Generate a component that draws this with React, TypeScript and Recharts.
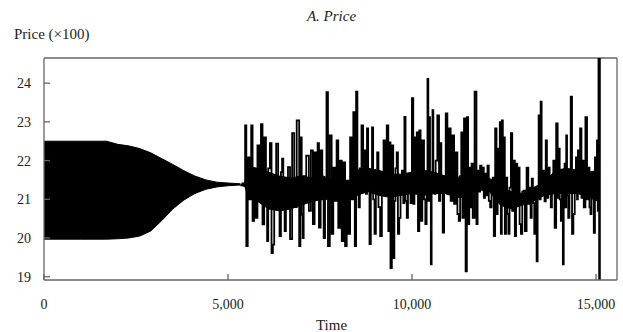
import { ComposedChart, Area, Line, XAxis, YAxis, ReferenceLine } from 'recharts'

// phase 1: dense oscillation, drawn as its envelope
const calmTimes = [0, 1000, 1700, 2000, 2300, 2600, 2900, 3200, 3500, 3800, 4100, 4400, 4700, 5000, 5340]
const calmUpper = [22.5, 22.5, 22.5, 22.42, 22.38, 22.31, 22.2, 22.05, 21.9, 21.74, 21.6, 21.5, 21.44, 21.42, 21.4]
const calmLower = [19.97, 19.97, 19.97, 19.98, 20.0, 20.05, 20.18, 20.45, 20.75, 20.98, 21.15, 21.26, 21.32, 21.35, 21.37]

// phase 2: the solid dark core of the noisy part
const coreTimes = [5450, 5550, 5800, 6100, 6400, 6700, 7000, 7300, 7600, 7900, 8200, 8500, 8800, 9100, 9400, 9700, 10000,
  10300, 10600, 10900, 11200, 11500, 11800, 12100, 12400, 12700, 13000, 13300, 13600, 13900, 14200, 14500, 14800, 15050]
const coreUpper = [21.4, 21.85, 21.8, 21.7, 21.6, 21.55, 21.6, 21.55, 21.6, 21.45, 21.25, 21.75, 21.8, 21.75, 21.65, 21.65, 21.7,
  21.75, 21.7, 21.6, 21.55, 21.65, 21.6, 21.55, 21.3, 21.2, 21.15, 21.3, 21.45, 21.75, 21.8, 21.75, 21.7, 21.75]
const coreLower = [21.35, 21.05, 20.95, 20.75, 20.7, 20.75, 20.85, 20.95, 21.0, 21.0, 20.9, 21.1, 21.2, 21.1, 21.05, 21.1, 21.15,
  21.1, 21.15, 21.15, 21.05, 21.05, 21.25, 21.2, 20.85, 20.75, 20.85, 20.95, 21.1, 21.15, 21.15, 21.15, 21.05, 20.95]

// phase 2: noisy trading, read stroke by stroke
const tradeTimes = [
  5340, 5380, 5400, 5440, 5490, 5505, 5567, 5600, 5660, 5675, 5745, 5760, 5840, 5860, 5930, 5945,
  6022, 6040, 6085, 6100, 6175, 6190, 6249, 6262, 6355, 6370, 6431, 6445, 6494, 6510, 6567, 6580,
  6680, 6692, 6793, 6805, 6928, 6940, 6995, 7010, 7050, 7062, 7190, 7205, 7300, 7312, 7393, 7405,
  7465, 7478, 7556, 7568, 7630, 7642, 7710, 7722, 7810, 7822, 7900, 7912, 7990, 8002, 8085, 8097,
  8175, 8187, 8265, 8277, 8358, 8370, 8439, 8451, 8510, 8522, 8576, 8588, 8666, 8678, 8739, 8751,
  8802, 8814, 8875, 8887, 8938, 8950, 9012, 9024, 9082, 9094, 9175, 9187, 9265, 9277, 9350, 9362,
  9409, 9421, 9483, 9495, 9546, 9558, 9611, 9623, 9682, 9694, 9756, 9768, 9818, 9830, 9884, 9896,
  9954, 9966, 10028, 10040, 10091, 10103, 10156, 10168, 10227, 10239, 10320, 10332, 10391, 10403,
  10437, 10449, 10483, 10495, 10527, 10539, 10573, 10585, 10636, 10648, 10728, 10740, 10791, 10803,
  10865, 10877, 10955, 10967, 11044, 11056, 11137, 11149, 11227, 11239, 11301, 11313, 11363, 11375,
  11450, 11462, 11518, 11530, 11581, 11593, 11644, 11656, 11745, 11757, 11807, 11819, 11881, 11893,
  11944, 11956, 12009, 12021, 12080, 12092, 12154, 12166, 12216, 12228, 12290, 12302, 12352, 12364,
  12407, 12419, 12462, 12474, 12516, 12528, 12581, 12593, 12644, 12656, 12717, 12729, 12788, 12800,
  12854, 12866, 12917, 12929, 12990, 13002, 13061, 13073, 13154, 13166, 13216, 13228, 13279, 13291,
  13353, 13365, 13407, 13419, 13462, 13474, 13516, 13528, 13595, 13607, 13660, 13672, 13734, 13746,
  13796, 13808, 13870, 13882, 13952, 13964, 14007, 14019, 14069, 14081, 14116, 14128, 14162, 14174,
  14206, 14218, 14271, 14283, 14342, 14354, 14415, 14427, 14478, 14490, 14524, 14536, 14598, 14610,
  14661, 14673, 14750, 14762, 14816, 14828, 14870, 14882, 14933, 14945, 14996, 15008, 15042, 15054,
  15080, 15090, 15100, 15110,
]
const tradePrices = [
  21.37, 21.36, 21.41, 21.35, 22.91, 19.79, 22.08, 21.0, 22.91, 20.44, 21.56, 20.52, 22.39, 21.0, 22.94, 20.35,
  22.6, 21.2, 19.92, 21.8, 22.45, 19.61, 19.83, 21.6, 22.44, 21.0, 20.05, 21.7, 22.05, 20.9, 20.18, 21.5,
  21.83, 19.97, 22.71, 20.8, 23.04, 19.79, 22.6, 20.6, 20.0, 21.6, 22.13, 20.7, 22.26, 20.36, 22.21, 21.0,
  22.45, 20.27, 22.26, 21.0, 20.0, 21.3, 23.77, 19.79, 22.65, 20.11, 21.82, 20.96, 22.52, 20.26, 22.0, 19.92,
  21.95, 19.79, 21.48, 20.11, 22.6, 21.0, 23.25, 19.79, 23.78, 21.2, 20.79, 21.8, 22.91, 21.2, 22.26, 21.14,
  22.83, 21.3, 19.84, 21.6, 22.86, 21.0, 20.11, 21.5, 22.21, 20.8, 20.05, 21.5, 22.52, 21.2, 22.91, 20.18,
  22.47, 19.22, 22.39, 19.48, 20.96, 21.8, 22.21, 20.11, 20.52, 21.6, 21.74, 20.9, 23.13, 20.96, 20.52, 21.5,
  21.56, 20.9, 23.61, 20.88, 22.6, 21.2, 22.73, 20.18, 22.78, 20.44, 22.52, 21.0, 20.36, 21.7,
  24.11, 20.96, 23.12, 21.5, 19.32, 21.6, 23.3, 21.2, 21.14, 22.0, 23.17, 20.96, 22.45, 21.3,
  20.14, 21.6, 23.22, 21.14, 22.83, 20.96, 22.65, 20.88, 22.21, 20.62, 20.44, 21.6, 22.73, 20.52,
  23.09, 19.14, 23.12, 20.36, 21.82, 20.79, 21.92, 20.52, 23.78, 20.36, 21.74, 21.2, 21.87, 21.35,
  21.82, 21.04, 21.66, 21.1, 21.87, 20.96, 20.79, 21.5, 21.56, 20.05, 22.83, 20.62, 22.31, 21.2,
  22.99, 20.11, 23.04, 21.0, 22.6, 20.11, 21.56, 20.62, 20.11, 21.3, 22.71, 20.7, 22.0, 20.05,
  21.92, 21.0, 21.82, 20.36, 20.11, 21.2, 21.22, 20.18, 21.82, 20.88, 21.3, 20.52, 21.53, 20.9,
  20.11, 21.2, 19.4, 21.3, 23.17, 21.0, 23.52, 21.22, 21.74, 20.95, 22.52, 21.04, 21.82, 21.2,
  20.79, 21.5, 22.0, 20.26, 22.96, 21.04, 22.31, 21.0, 20.44, 21.3, 19.32, 21.5, 21.92, 20.79,
  22.65, 21.1, 20.52, 21.6, 23.65, 20.11, 20.62, 21.4, 22.08, 21.0, 22.26, 21.22, 22.83, 21.04,
  22.0, 20.79, 23.12, 21.0, 21.82, 20.79, 20.62, 21.3, 21.43, 20.13, 22.08, 21.0, 22.52, 20.7,
  24.9, 18.8, 24.9, 18.8,
]

const xTicks = [0, 5000, 10000, 15000]
const yTicks = [19, 20, 21, 22, 23, 24]
const xMax = 15570
const yMin = 18.915
const yMax = 24.65

const calmData = calmTimes.map((t, i) => ({ t, band: [calmLower[i], calmUpper[i]] }))
const coreData = coreTimes.map((t, i) => ({ t, band: [coreLower[i], coreUpper[i]] }))
const tradeData = tradeTimes.map((t, i) => ({ t, price: tradePrices[i] }))

const FONT = '"Liberation Serif", "DejaVu Serif", serif'
const BORDER = '#666'

export default function App() {
  return (
    <div style={{ position: 'absolute', left: 0, top: 0, width: 623, height: 332, background: '#fff', fontFamily: FONT, color: '#222' }}>
      <div style={{ position: 'absolute', left: 0, width: 663, top: 8, textAlign: 'center', fontSize: 15, fontStyle: 'italic' }}>
        A. Price
      </div>
      <div style={{ position: 'absolute', left: 14, top: 26, fontSize: 15 }}>Price (×100)</div>
      <div style={{ position: 'absolute', left: 0, width: 663, top: 317, textAlign: 'center', fontSize: 15 }}>Time</div>

      <ComposedChart width={623} height={332} margin={{ top: 58, right: 6, bottom: 0, left: 0 }}>
        <XAxis
          dataKey="t"
          type="number"
          domain={[0, xMax]}
          ticks={xTicks}
          allowDataOverflow
          height={52}
          tickSize={-6}
          tickMargin={25}
          tickFormatter={(v: number) => v.toLocaleString('en-US')}
          tick={{ fill: '#222', fontSize: 14, fontFamily: FONT }}
          axisLine={{ stroke: BORDER, strokeWidth: 1.3 }}
          tickLine={{ stroke: BORDER, strokeWidth: 1.3 }}
        />
        <YAxis
          type="number"
          domain={[yMin, yMax]}
          ticks={yTicks}
          allowDataOverflow
          width={44}
          tickSize={-6}
          tickMargin={19}
          tick={{ fill: '#222', fontSize: 14, fontFamily: FONT }}
          axisLine={{ stroke: BORDER, strokeWidth: 1.3 }}
          tickLine={{ stroke: BORDER, strokeWidth: 1.3 }}
        />
        <ReferenceLine y={yMax} stroke={BORDER} strokeWidth={1.3} />
        <ReferenceLine x={xMax} stroke={BORDER} strokeWidth={1.3} />
        <Area
          data={calmData}
          dataKey="band"
          type="linear"
          fill="#000"
          fillOpacity={1}
          stroke="#000"
          strokeWidth={1}
          isAnimationActive={false}
          dot={false}
          activeDot={false}
        />
        <Area
          data={coreData}
          dataKey="band"
          type="linear"
          fill="#000"
          fillOpacity={1}
          stroke="#000"
          strokeWidth={1}
          isAnimationActive={false}
          dot={false}
          activeDot={false}
        />
        <Line
          data={tradeData}
          dataKey="price"
          type="step"
          stroke="#000"
          strokeWidth={1.8}
          dot={false}
          activeDot={false}
          isAnimationActive={false}
        />
      </ComposedChart>
    </div>
  )
}
